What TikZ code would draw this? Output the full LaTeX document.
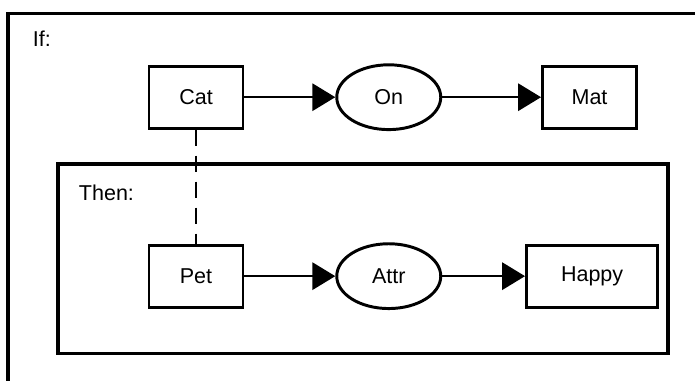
\documentclass[tikz,border=0pt]{standalone}
\usepackage{fontspec}
\setmainfont{Liberation Sans}
\usetikzlibrary{shapes.geometric, arrows.meta, positioning}
\tikzstyle{concept} = [rectangle, 
minimum width=2.35cm, 
minimum height=1.55cm, 
draw=black, 
line width=2.1pt]
\tikzstyle{relation} = [ellipse, 
minimum width=2.6cm, 
minimum height=1.62cm, 
draw=black, 
line width=2.1pt]
\tikzstyle{frame} = [draw=black, line width=2.3pt]
\tikzstyle{arrow} = [line width=1.5pt,-{Triangle[length=5.7mm,width=6.8mm]}]
\tikzstyle{coref} = [line width=1.6pt, dash pattern=on 4mm off 2.5mm]

\begin{document}
\begin{tikzpicture}[node distance=2.3cm, font=\fontsize{15.3}{18}\selectfont]
		
		\useasboundingbox (0,0) rectangle (17.375,-9.525);
		\clip (0,0) rectangle (17.375,-9.525);
		
		% outer and inner frames
		\draw [frame] (18,-0.33) -| (0.2,-10);
		\draw [frame] (1.45,-4.1) rectangle (16.7,-8.83);
		\node (if) [anchor=west] at (0.7,-0.98) {If:};
		\node (then) [anchor=west] at (1.85,-4.83) {Then:};
		
		\node (cat) [concept] at (4.9,-2.43) {Cat};
		\node (on) [relation, right=2.27cm of cat] {On};
		\node (mat) [concept, right=2.47cm of on] {Mat};
		
		\node (pet) [concept, below=2.85cm of cat] {Pet};
		\node (attr) [relation, right=2.27cm of pet] {Attr};
		\node (happy) [concept, minimum width=3.28cm, right=2.07cm of attr] {Happy};
		
		\draw [arrow] (cat) -- (on);
		\draw [arrow] (on) -- (mat);
		\draw [arrow] (pet) -- (attr);
		\draw [arrow] (attr) -- (happy);
		
		\draw [coref] (cat) -- (pet);
		
	\end{tikzpicture}
\end{document}
